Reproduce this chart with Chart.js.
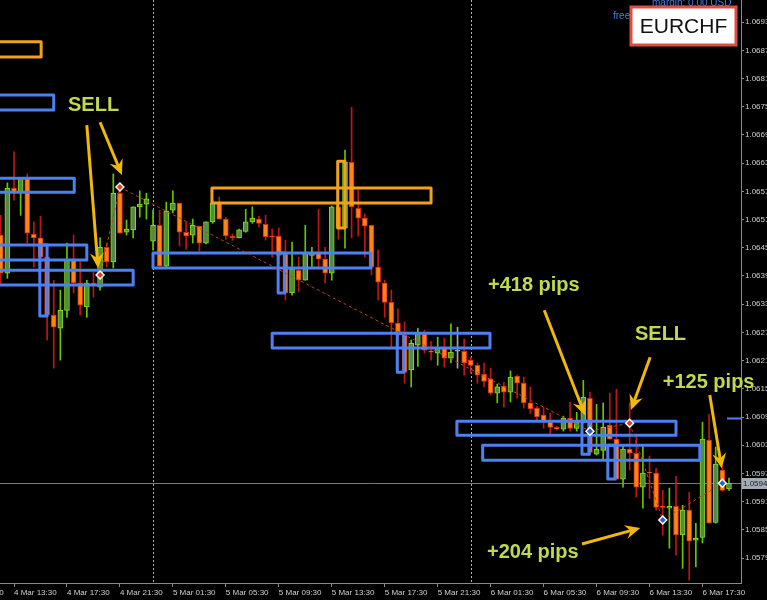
<!DOCTYPE html>
<html>
<head>
<meta charset="utf-8">
<title>EURCHF M30</title>
<script src="https://cdn.jsdelivr.net/npm/chart.js@4.4.0/dist/chart.umd.min.js"></script>
<style>
  html, body { margin: 0; padding: 0; background: #000; }
  #myChart { display: block; background: #000; }
</style>
</head>
<body>
<canvas id="myChart" width="767" height="600"></canvas>

<script>
  // M30 candles, index 0 = 4 Mar 13:30
  const firstIndex = -2;

  const openPrices = [
    1.06477, 1.06396, 1.06577, 1.06568, 1.06598, 1.06479, 1.06471, 1.06430, 1.06307, 1.06279,
    1.06317, 1.06424, 1.06375, 1.06324, 1.06375, 1.06366, 1.06451, 1.06420, 1.06566, 1.06483,
    1.06488, 1.06537, 1.06543, 1.06464, 1.06498, 1.06411, 1.06530, 1.06545, 1.06483, 1.06477,
    1.06496, 1.06460, 1.06505, 1.06545, 1.06511, 1.06475, 1.06471, 1.06485, 1.06505, 1.06511,
    1.06500, 1.06475, 1.06475, 1.06437, 1.06354, 1.06402, 1.06381, 1.06434, 1.06439, 1.06426,
    1.06396, 1.06537, 1.06492, 1.06632, 1.06534, 1.06513, 1.06498, 1.06409, 1.06375, 1.06334,
    1.06290, 1.06264, 1.06190, 1.06243, 1.06266, 1.06230, 1.06226, 1.06237, 1.06215, 1.06230,
    1.06230, 1.06211, 1.06200, 1.06181, 1.06171, 1.06141, 1.06156, 1.06143, 1.06177, 1.06162,
    1.06120, 1.06109, 1.06094, 1.06079, 1.06068, 1.06064, 1.06088, 1.06066, 1.06081, 1.06130,
    1.06011, 1.06019, 1.06073, 1.06043, 1.05958, 1.06022, 1.06013, 1.05941, 1.05973, 1.05971,
    1.05900, 1.05896, 1.05900, 1.05839, 1.05892, 1.05828, 1.05834, 1.06041, 1.05866, 1.05977,
    1.05937
  ];
  const highPrices = [
    1.06519, 1.06588, 1.06654, 1.06598, 1.06607, 1.06505, 1.06517, 1.06439, 1.06381, 1.06360,
    1.06460, 1.06477, 1.06420, 1.06381, 1.06398, 1.06471, 1.06460, 1.06607, 1.06579, 1.06509,
    1.06537, 1.06571, 1.06566, 1.06530, 1.06530, 1.06547, 1.06571, 1.06545, 1.06505, 1.06511,
    1.06496, 1.06505, 1.06551, 1.06558, 1.06515, 1.06479, 1.06490, 1.06532, 1.06537, 1.06517,
    1.06519, 1.06490, 1.06492, 1.06466, 1.06462, 1.06430, 1.06498, 1.06451, 1.06532, 1.06451,
    1.06539, 1.06537, 1.06658, 1.06749, 1.06573, 1.06522, 1.06498, 1.06445, 1.06381, 1.06360,
    1.06320, 1.06292, 1.06254, 1.06279, 1.06275, 1.06251, 1.06260, 1.06258, 1.06288, 1.06281,
    1.06256, 1.06217, 1.06205, 1.06205, 1.06194, 1.06160, 1.06164, 1.06188, 1.06179, 1.06175,
    1.06154, 1.06113, 1.06111, 1.06098, 1.06071, 1.06092, 1.06122, 1.06100, 1.06168, 1.06143,
    1.06117, 1.06120, 1.06141, 1.06149, 1.06030, 1.06120, 1.06049, 1.06030, 1.06007, 1.05981,
    1.05934, 1.05939, 1.05964, 1.05902, 1.05930, 1.05864, 1.06079, 1.06096, 1.06026, 1.05994,
    1.05960
  ];
  const lowPrices = [
    1.06371, 1.06385, 1.06551, 1.06519, 1.06460, 1.06409, 1.06409, 1.06254, 1.06194, 1.06211,
    1.06302, 1.06354, 1.06307, 1.06302, 1.06345, 1.06360, 1.06409, 1.06407, 1.06481, 1.06477,
    1.06471, 1.06515, 1.06511, 1.06445, 1.06411, 1.06409, 1.06524, 1.06454, 1.06447, 1.06460,
    1.06443, 1.06458, 1.06502, 1.06511, 1.06468, 1.06466, 1.06471, 1.06483, 1.06502, 1.06494,
    1.06466, 1.06430, 1.06417, 1.06339, 1.06349, 1.06356, 1.06381, 1.06407, 1.06409, 1.06375,
    1.06381, 1.06468, 1.06449, 1.06471, 1.06475, 1.06430, 1.06392, 1.06339, 1.06302, 1.06239,
    1.06254, 1.06162, 1.06154, 1.06198, 1.06226, 1.06211, 1.06200, 1.06196, 1.06205, 1.06194,
    1.06179, 1.06183, 1.06162, 1.06154, 1.06137, 1.06120, 1.06111, 1.06122, 1.06130, 1.06109,
    1.06098, 1.06083, 1.06066, 1.06051, 1.06062, 1.06060, 1.06060, 1.06060, 1.06077, 1.06009,
    1.06009, 1.06000, 1.06043, 1.05956, 1.05941, 1.05977, 1.05920, 1.05896, 1.05917, 1.05892,
    1.05839, 1.05811, 1.05796, 1.05768, 1.05743, 1.05771, 1.05822, 1.05864, 1.05864, 1.05932,
    1.05934
  ];
  const closePrices = [
    1.06396, 1.06577, 1.06568, 1.06598, 1.06481, 1.06471, 1.06430, 1.06307, 1.06281, 1.06317,
    1.06424, 1.06375, 1.06328, 1.06375, 1.06373, 1.06451, 1.06420, 1.06566, 1.06481, 1.06490,
    1.06537, 1.06543, 1.06554, 1.06498, 1.06411, 1.06528, 1.06545, 1.06483, 1.06475, 1.06498,
    1.06460, 1.06505, 1.06545, 1.06511, 1.06475, 1.06471, 1.06488, 1.06505, 1.06513, 1.06502,
    1.06473, 1.06473, 1.06434, 1.06354, 1.06405, 1.06381, 1.06439, 1.06437, 1.06426, 1.06396,
    1.06537, 1.06492, 1.06632, 1.06537, 1.06513, 1.06496, 1.06409, 1.06377, 1.06334, 1.06290,
    1.06264, 1.06185, 1.06247, 1.06268, 1.06232, 1.06228, 1.06237, 1.06215, 1.06228, 1.06230,
    1.06205, 1.06200, 1.06179, 1.06166, 1.06141, 1.06154, 1.06143, 1.06175, 1.06162, 1.06120,
    1.06107, 1.06090, 1.06079, 1.06068, 1.06064, 1.06088, 1.06066, 1.06079, 1.06132, 1.06015,
    1.06022, 1.06068, 1.06043, 1.05958, 1.06022, 1.06013, 1.05941, 1.05971, 1.05971, 1.05898,
    1.05898, 1.05900, 1.05839, 1.05892, 1.05826, 1.05832, 1.06043, 1.05864, 1.05990, 1.05934,
    1.05949
  ];

  const timeTickIdx = [-8, 0, 8, 16, 24, 32, 40, 48, 56, 64, 72, 80, 88, 96, 104];
  const timeLabels = ['4 Mar 09:30', '4 Mar 13:30', '4 Mar 17:30', '4 Mar 21:30', '5 Mar 01:30',
    '5 Mar 05:30', '5 Mar 09:30', '5 Mar 13:30', '5 Mar 17:30', '5 Mar 21:30', '6 Mar 01:30',
    '6 Mar 05:30', '6 Mar 09:30', '6 Mar 13:30', '6 Mar 17:30'];
  const priceTicks = [1.0579, 1.0585, 1.0591, 1.0597, 1.0603, 1.0609, 1.0615, 1.0621, 1.0627,
    1.0633, 1.0639, 1.0645, 1.0651, 1.0657, 1.0663, 1.0669, 1.0675, 1.0681, 1.0687, 1.0693];
  const daySeparators = [21, 69];
  const bidPrice = 1.05949;
  const levelPrice = 1.06088;

  // zones: [from, to, top, bottom, kind]
  const zones = [
    [-5, 4.1, 1.06888, 1.06856, 'o'],
    [-5, 6.0, 1.06775, 1.06743, 'b'],
    [-5, 9.1, 1.06598, 1.06568, 'b'],
    [-5, 11.0, 1.06456, 1.06424, 'b'],
    [3.9, 5.0, 1.06456, 1.06305, 'b'],
    [-5, 18.0, 1.06402, 1.06371, 'b'],
    [21.0, 53.9, 1.06439, 1.06407, 'b'],
    [39.9, 40.9, 1.06439, 1.06354, 'b'],
    [29.9, 63.0, 1.06577, 1.06545, 'o'],
    [48.9, 50.0, 1.06634, 1.06492, 'o'],
    [39.0, 71.9, 1.06268, 1.06237, 'b'],
    [57.9, 58.9, 1.06268, 1.06185, 'b'],
    [66.9, 100.0, 1.06081, 1.06051, 'b'],
    [85.8, 86.9, 1.06081, 1.06011, 'b'],
    [70.8, 103.6, 1.06030, 1.05998, 'b'],
    [89.7, 90.8, 1.06030, 1.05958, 'b']
  ];

  // trade marks: [index, price, kind]
  const tradeMarks = [
    [13, 1.06392, 's'], [16, 1.06579, 's'], [87, 1.06060, 'b'],
    [93, 1.06077, 's'], [98, 1.05871, 'b'], [107, 1.05949, 'b']
  ];
  const tradeLinks = [[0, 1], [1, 2], [2, 3], [3, 4], [4, 5]];

  // arrows: [fromIdx, fromPrice, toIdx, toPrice]
  const arrows = [
    [11.0, 1.06711, 12.7, 1.06407],
    [13.0, 1.06717, 16.3, 1.06605],
    [80.1, 1.06317, 86.25, 1.06094],
    [96.1, 1.06217, 93.2, 1.06105],
    [105.1, 1.06137, 106.9, 1.05981],
    [85.8, 1.05820, 94.6, 1.05854]
  ];
  // notes: [text, idx, price (baseline)]
  const notes = [
    ['SELL', 8.16, 1.06741],
    ['+418 pips', 71.6, 1.06358],
    ['SELL', 93.8, 1.06254],
    ['+125 pips', 98.0, 1.06151],
    ['+204 pips', 71.45, 1.05790]
  ];

  const kinds = openPrices.map((o, i) => closePrices[i] > o ? 'up' : (closePrices[i] < o ? 'down' : 'flat'));
  const bodyFill = { up: '#558a45', down: '#ff8410', flat: '#a8a8a8' };
  const bodyLine = { up: '#7de012', down: '#d42a1c', flat: '#a8a8a8' };
  const wickLine = { up: '#62c800', down: '#c21616', flat: '#a8a8a8' };

  function mark(ctx, px, py, kind) {
    ctx.fillStyle = '#ffffff';
    ctx.beginPath();
    ctx.moveTo(px, py - 5); ctx.lineTo(px + 5, py); ctx.lineTo(px, py + 5); ctx.lineTo(px - 5, py);
    ctx.closePath(); ctx.fill();
    ctx.fillStyle = kind === 's' ? '#e0401c' : '#2f5fd0';
    ctx.beginPath();
    ctx.moveTo(px, py - 3); ctx.lineTo(px + 3, py); ctx.lineTo(px, py + 3); ctx.lineTo(px - 3, py);
    ctx.closePath(); ctx.fill();
  }

  function arrow(ctx, x0, y0, x1, y1) {
    const a = Math.atan2(y1 - y0, x1 - x0);
    const c = Math.cos(a), s = Math.sin(a);
    const bx = x1 - 15 * c, by = y1 - 15 * s;
    ctx.beginPath(); ctx.moveTo(x0, y0); ctx.lineTo(x1 - 8 * c, y1 - 8 * s); ctx.stroke();
    ctx.beginPath();
    ctx.moveTo(x1, y1);
    ctx.lineTo(bx + 7 * s, by - 7 * c);
    ctx.lineTo(x1 - 10 * c, y1 - 10 * s);
    ctx.lineTo(bx - 7 * s, by + 7 * c);
    ctx.closePath(); ctx.fill();
  }

  const overlay = {
    id: 'overlay',
    beforeDatasetsDraw(chart) {
      const { ctx, chartArea: a, scales: { x, y } } = chart;
      ctx.save();
      ctx.strokeStyle = '#b4b4b4';
      ctx.lineWidth = 1;
      ctx.setLineDash([2, 2]);
      daySeparators.forEach(d => {
        const px = Math.round(x.getPixelForValue(d)) + 0.5;
        ctx.beginPath(); ctx.moveTo(px, a.top); ctx.lineTo(px, a.bottom); ctx.stroke();
      });
      ctx.setLineDash([]);
      ctx.strokeStyle = '#7a7a7a';
      const by = Math.round(y.getPixelForValue(bidPrice)) + 0.5;
      ctx.beginPath(); ctx.moveTo(a.left, by); ctx.lineTo(a.right, by); ctx.stroke();
      ctx.restore();
    },
    afterDatasetsDraw(chart) {
      const { ctx, chartArea: a, scales: { x, y } } = chart;
      ctx.save();
      ctx.beginPath(); ctx.rect(a.left, a.top, a.right - a.left, a.bottom - a.top); ctx.clip();

      ctx.lineWidth = 3;
      ctx.lineJoin = 'round';
      zones.forEach(z => {
        const x0 = x.getPixelForValue(z[0]), x1 = x.getPixelForValue(z[1]);
        const y0 = y.getPixelForValue(z[2]), y1 = y.getPixelForValue(z[3]);
        ctx.strokeStyle = z[4] === 'o' ? '#f0a11e' : '#4d80f0';
        ctx.strokeRect(x0, y0, x1 - x0, y1 - y0);
      });

      ctx.strokeStyle = '#c2401a';
      ctx.lineWidth = 1;
      ctx.setLineDash([3, 3]);
      tradeLinks.forEach(l => {
        const p = tradeMarks[l[0]], q = tradeMarks[l[1]];
        ctx.beginPath();
        ctx.moveTo(x.getPixelForValue(p[0]), y.getPixelForValue(p[1]));
        ctx.lineTo(x.getPixelForValue(q[0]), y.getPixelForValue(q[1]));
        ctx.stroke();
      });
      ctx.setLineDash([]);
      tradeMarks.forEach(m => mark(ctx, x.getPixelForValue(m[0]), y.getPixelForValue(m[1]), m[2]));
      ctx.restore();

      ctx.save();
      ctx.strokeStyle = '#efb80a';
      ctx.fillStyle = '#efb80a';
      ctx.lineWidth = 3;
      arrows.forEach(r => arrow(ctx, x.getPixelForValue(r[0]), y.getPixelForValue(r[1]),
        x.getPixelForValue(r[2]), y.getPixelForValue(r[3])));

      ctx.font = 'bold 20px "Liberation Sans", Arial, sans-serif';
      ctx.fillStyle = '#c0d94e';
      ctx.textBaseline = 'alphabetic';
      notes.forEach(n => ctx.fillText(n[0], x.getPixelForValue(n[1]), y.getPixelForValue(n[2])));
      ctx.restore();
    },
    afterDraw(chart) {
      const { ctx, chartArea: a, scales: { x, y } } = chart;
      ctx.save();
      // short blue level at the right edge
      const ly = Math.round(y.getPixelForValue(levelPrice)) + 0.5;
      ctx.strokeStyle = '#4d80f0';
      ctx.lineWidth = 2;
      ctx.beginPath(); ctx.moveTo(a.right - 14, ly); ctx.lineTo(a.right, ly); ctx.stroke();

      // bid price label (4 digits, truncated as on the terminal)
      const by = Math.round(y.getPixelForValue(bidPrice));
      ctx.fillStyle = '#a3acb6';
      ctx.fillRect(a.right + 1, by - 5, 30, 11);
      ctx.fillStyle = '#1a1a1a';
      ctx.font = '8px "Liberation Sans", Arial, sans-serif';
      ctx.textBaseline = 'middle';
      ctx.fillText((Math.floor(bidPrice * 10000) / 10000).toFixed(4), a.right + 2, by + 1);

      // account info text
      ctx.fillStyle = '#3f7fe0';
      ctx.font = '10px "Liberation Sans", Arial, sans-serif';
      ctx.textBaseline = 'alphabetic';
      ctx.fillText('margin: 0.00 USD', 652, 6);
      ctx.fillText('free margin: 0.00 USD', 613, 19);

      // symbol box
      ctx.fillStyle = '#ffffff';
      ctx.fillRect(631, 7, 105, 38);
      ctx.strokeStyle = '#d9503f';
      ctx.lineWidth = 3;
      ctx.strokeRect(631, 7, 105, 38);
      ctx.fillStyle = '#111111';
      ctx.font = '21px "Liberation Sans", Arial, sans-serif';
      ctx.textAlign = 'center';
      ctx.textBaseline = 'middle';
      ctx.fillText('EURCHF', 683.5, 27);
      ctx.restore();
    }
  };

  const ctx = document.getElementById('myChart');
  const myChart = new Chart(ctx, {
    type: 'bar',
    data: {
      datasets: [{
        data: openPrices.map((o, i) => ({ x: firstIndex + i, y: [o, closePrices[i]] })),
        backgroundColor: kinds.map(k => bodyFill[k]),
        borderColor: kinds.map(k => bodyLine[k]),
        borderWidth: 1,
        borderSkipped: false,
        barThickness: 5,
        minBarLength: 1,
        order: 0
      }, {
        data: lowPrices.map((l, i) => ({ x: firstIndex + i, y: [l, highPrices[i]] })),
        backgroundColor: kinds.map(k => wickLine[k]),
        borderWidth: 0,
        barThickness: 1,
        order: 1
      }]
    },
    options: {
      responsive: false,
      animation: false,
      grouped: false,
      layout: { padding: 0 },
      plugins: { legend: { display: false }, tooltip: { enabled: false } },
      scales: {
        x: {
          type: 'linear',
          position: 'bottom',
          min: -2.115,
          max: 109.82,
          offset: false,
          grid: { display: true, drawOnChartArea: false, drawTicks: true, tickLength: 4, color: '#8a8a8a', offset: false },
          border: { color: '#8a8a8a', width: 1 },
          ticks: {
            autoSkip: false, maxRotation: 0, minRotation: 0, align: 'start', padding: 1,
            color: '#cfcfcf', font: { family: '"Liberation Sans", Arial, sans-serif', size: 8 },
            callback: (v) => timeLabels[timeTickIdx.indexOf(v)]
          },
          afterBuildTicks: (s) => { s.ticks = timeTickIdx.map(v => ({ value: v })); },
          afterFit: (s) => { s.height = 17; s.paddingLeft = 0; s.paddingRight = 0; }
        },
        y: {
          type: 'linear',
          position: 'right',
          min: 1.05737,
          max: 1.06977,
          grid: { display: true, drawOnChartArea: false, drawTicks: true, tickLength: 3, color: '#8a8a8a' },
          border: { color: '#8a8a8a', width: 1 },
          ticks: {
            padding: 1, color: '#cfcfcf', font: { family: '"Liberation Sans", Arial, sans-serif', size: 8 },
            callback: (v) => v.toFixed(4)
          },
          afterBuildTicks: (s) => { s.ticks = priceTicks.map(v => ({ value: v })); },
          afterFit: (s) => { s.width = 26; s.paddingTop = 0; s.paddingBottom = 0; }
        }
      }
    },
    plugins: [overlay]
  });
</script>
</body>
</html>
